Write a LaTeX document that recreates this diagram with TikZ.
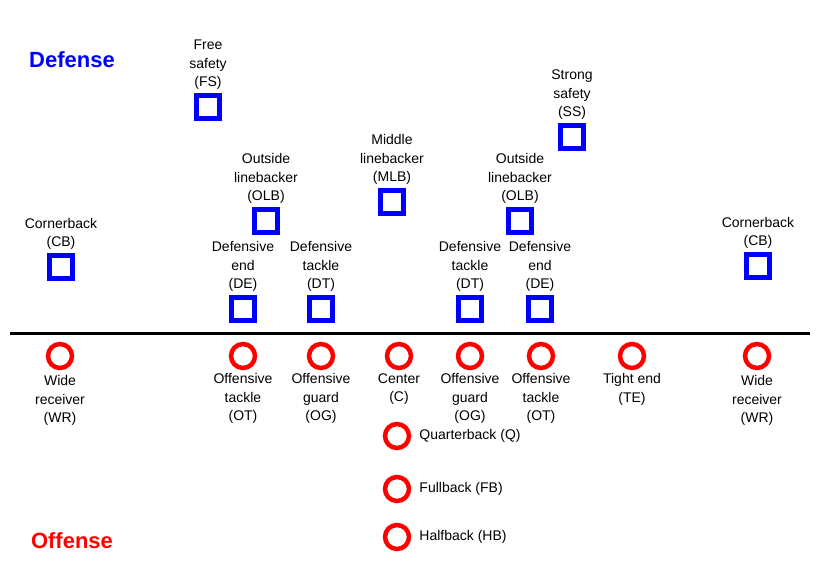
\documentclass[tikz,border=0pt]{standalone}
\usepackage{fontspec}
\setmainfont{Liberation Sans}
\usetikzlibrary{positioning}
\begin{document}
\begin{tikzpicture}[x=1pt,y=-1pt]
	\tikzstyle{defenseur}=[draw=blue,line width=5pt,minimum size=23pt,inner sep=0pt]
	\tikzstyle{attaquant}=[draw=red,circle,line width=4.5pt,minimum size=24pt,inner sep=0pt]
	\tikzstyle{etiquette}=[align=center,font=\fontsize{14}{18.5}\selectfont,inner sep=1pt]
	\useasboundingbox (0,0) rectangle (820,567);
	% defense
	\node[defenseur] (FS) at (208,107) {};
	\node[defenseur] (SS) at (572,137) {};
	\node[defenseur] (OLBa) at (266,221) {};
	\node[defenseur] (MLB) at (392,202) {};
	\node[defenseur] (OLBb) at (520,221) {};
	\node[defenseur] (CBa) at (61,267) {};
	\node[defenseur] (CBb) at (758,266) {};
	\node[defenseur] (DEa) at (243,309) {};
	\node[defenseur] (DTa) at (321,309) {};
	\node[defenseur] (DTb) at (470,309) {};
	\node[defenseur] (DEb) at (540,309) {};
	\node[etiquette,above=2pt of FS] {Free\\safety\\(FS)};
	\node[etiquette,above=2pt of SS] {Strong\\safety\\(SS)};
	\node[etiquette,above=2pt of OLBa] {Outside\\linebacker\\(OLB)};
	\node[etiquette,above=2pt of MLB] {Middle\\linebacker\\(MLB)};
	\node[etiquette,above=2pt of OLBb] {Outside\\linebacker\\(OLB)};
	\node[etiquette,above=2pt of CBa] {Cornerback\\(CB)};
	\node[etiquette,above=2pt of CBb] {Cornerback\\(CB)};
	\node[etiquette,above=2pt of DEa] {Defensive\\end\\(DE)};
	\node[etiquette,above=2pt of DTa] {Defensive\\tackle\\(DT)};
	\node[etiquette,above=2pt of DTb] {Defensive\\tackle\\(DT)};
	\node[etiquette,above=2pt of DEb] {Defensive\\end\\(DE)};
	% ligne
	\coordinate (Lg) at (10,333);
	\coordinate (Ld) at (810,333);
	\draw[line width=3pt] (Lg)--(Ld);
	% attaque
	\node[attaquant] (WRa) at (60,356) {};
	\node[attaquant] (OTa) at (243,356) {};
	\node[attaquant] (OGa) at (321,356) {};
	\node[attaquant] (C) at (399,356) {};
	\node[attaquant] (OGb) at (470,356) {};
	\node[attaquant] (OTb) at (541,356) {};
	\node[attaquant] (TE) at (632,356) {};
	\node[attaquant] (WRb) at (757,356) {};
	\node[attaquant] (Q) at (397,436) {};
	\node[attaquant] (FB) at (397,489) {};
	\node[attaquant] (HB) at (397,537) {};
	\node[etiquette,below=4pt of WRa] {Wide\\receiver\\(WR)};
	\node[etiquette,below=2pt of OTa] {Offensive\\tackle\\(OT)};
	\node[etiquette,below=2pt of OGa] {Offensive\\guard\\(OG)};
	\node[etiquette,below=2pt of C] {Center\\(C)};
	\node[etiquette,below=2pt of OGb] {Offensive\\guard\\(OG)};
	\node[etiquette,below=2pt of OTb] {Offensive\\tackle\\(OT)};
	\node[etiquette,below=2pt of TE] {Tight end\\(TE)};
	\node[etiquette,below=4pt of WRb] {Wide\\receiver\\(WR)};
	\node[etiquette,right=7pt of Q] {Quarterback (Q)};
	\node[etiquette,right=7pt of FB] {Fullback (FB)};
	\node[etiquette,right=7pt of HB] {Halfback (HB)};
	% titres
	\node[text=blue,font=\fontsize{22}{24}\selectfont\bfseries] (Def) at (72,60) {Defense};
	\node[text=red,font=\fontsize{22}{24}\selectfont\bfseries] (Off) at (72,541) {Offense};
\end{tikzpicture}
\end{document}
